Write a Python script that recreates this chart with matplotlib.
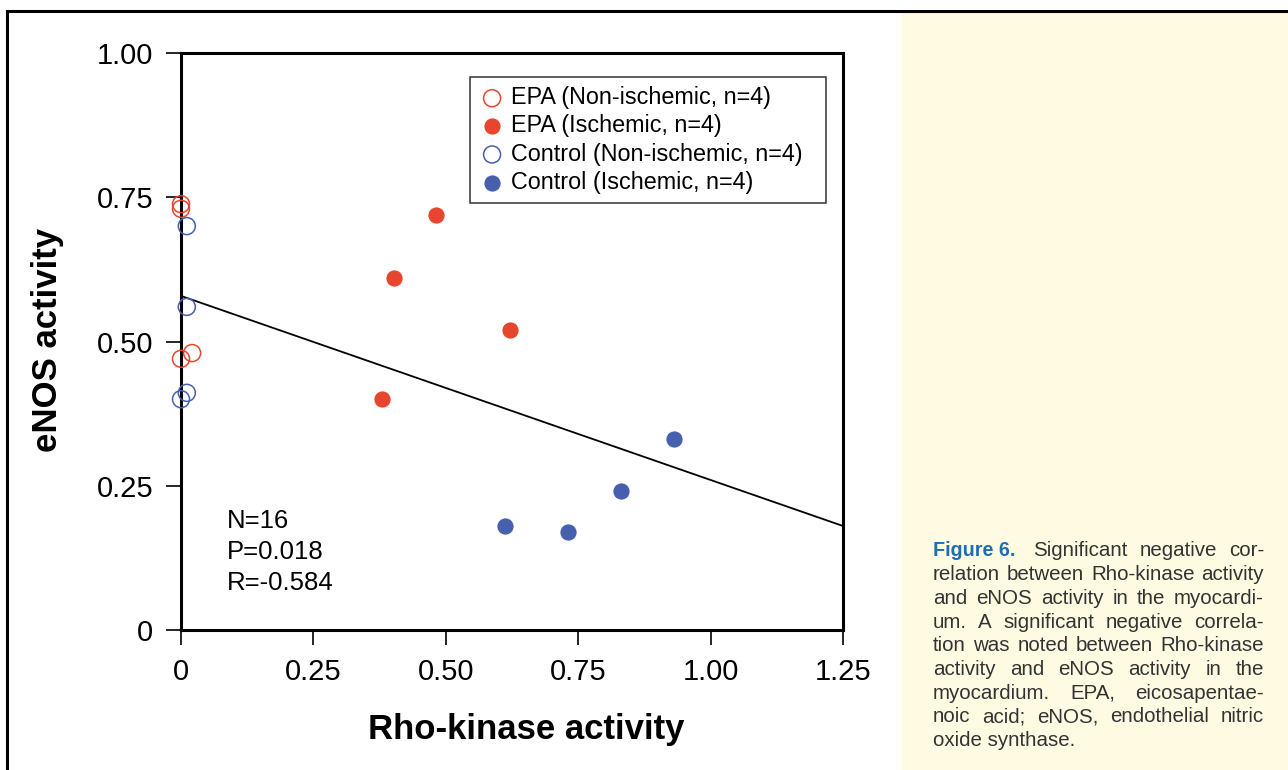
import numpy as np
import matplotlib.pyplot as plt
from matplotlib.lines import Line2D
from matplotlib.patches import Rectangle

plt.rcParams['font.family'] = ['Liberation Sans', 'DejaVu Sans']

# Rho-kinase activity (x) vs eNOS activity (y)
epa_non_x = [0.0, 0.0, 0.021, 0.0]
epa_non_y = [0.738, 0.730, 0.480, 0.470]
epa_isc_x = [0.481, 0.402, 0.621, 0.380]
epa_isc_y = [0.719, 0.610, 0.520, 0.400]
ctl_non_x = [0.011, 0.011, 0.011, 0.0]
ctl_non_y = [0.700, 0.560, 0.411, 0.400]
ctl_isc_x = [0.612, 0.731, 0.831, 0.931]
ctl_isc_y = [0.180, 0.170, 0.241, 0.331]

# regression line as drawn
fit_intercept = 0.579
fit_slope = -0.319

ticks = [0, 0.25, 0.50, 0.75, 1.00, 1.25]
tick_labels = ["0", "0.25", "0.50", "0.75", "1.00", "1.25"]
yticks = [0, 0.25, 0.50, 0.75, 1.00]
ytick_labels = ["0", "0.25", "0.50", "0.75", "1.00"]

stats_text = "N=16\nP=0.018\nR=-0.584"

caption_lines = [
    "Significant negative cor-",
    "relation between Rho-kinase activity",
    "and eNOS activity in the myocardi-",
    "um. A significant negative correla-",
    "tion was noted between Rho-kinase",
    "activity and eNOS activity in the",
    "myocardium. EPA, eicosapentae-",
    "noic acid; eNOS, endothelial nitric",
    "oxide synthase.",
]

RED = "#E8452F"
BLUE = "#4660AE"

W, H = 1288, 770
fig = plt.figure(figsize=(W / 100, H / 100), dpi=100)

# background panels and frame
fig.add_artist(Rectangle((901 / W, 0), 1 - 901 / W, 1 - 13 / H,
                         transform=fig.transFigure, color="#FFFBE3", lw=0, zorder=0))
fig.add_artist(Line2D([7 / W, 1], [1 - 11 / H, 1 - 11 / H],
                      transform=fig.transFigure, color="black", lw=2.2))
fig.add_artist(Line2D([7 / W, 7 / W], [0, 1 - 11 / H],
                      transform=fig.transFigure, color="black", lw=2.2))

ax = fig.add_axes([181 / W, 1 - 630 / H, (843 - 181) / W, (630 - 53) / H])

ms = 150
common = dict(s=ms, zorder=3, clip_on=False)
ax.scatter(epa_non_x, epa_non_y, facecolors="none", edgecolors=RED,
           linewidths=1.1, label="EPA (Non-ischemic, n=4)", **common)
ax.scatter(epa_isc_x, epa_isc_y, color=RED, edgecolors="white",
           linewidths=0.5, label="EPA (Ischemic, n=4)", **common)
ax.scatter(ctl_non_x, ctl_non_y, facecolors="none", edgecolors=BLUE,
           linewidths=1.1, label="Control (Non-ischemic, n=4)", **common)
ax.scatter(ctl_isc_x, ctl_isc_y, color=BLUE, edgecolors="white",
           linewidths=0.5, label="Control (Ischemic, n=4)", **common)

xs = np.array([0, 1.25])
ax.plot(xs, fit_intercept + fit_slope * xs, color="black", lw=1.3, zorder=2)

ax.set_xlim(0, 1.25)
ax.set_ylim(0, 1.0)
ax.set_xticks(ticks)
ax.set_xticklabels(tick_labels)
ax.set_yticks(yticks)
ax.set_yticklabels(ytick_labels)
ax.tick_params(direction="out", length=11, width=1.2, labelsize=21, pad=9)
for sp in ax.spines.values():
    sp.set_linewidth(2.2)

ax.set_xlabel("Rho-kinase activity", fontsize=25, fontweight="bold", va="center")
ax.xaxis.set_label_coords(0.521, -0.173)
ax.set_ylabel("eNOS activity", fontsize=25, fontweight="bold", va="center")
ax.yaxis.set_label_coords(-0.2024, 0.503)

ax.text(0.07, 0.21, stats_text, transform=ax.transAxes, fontsize=18.5,
        va="top", ha="left", linespacing=1.37)

leg = ax.legend(loc="upper left", bbox_to_anchor=(0.4366, 0, 0.5378, 0.9584),
                mode="expand", fontsize=16.8, frameon=True, fancybox=False,
                edgecolor="black", handletextpad=0.27, handlelength=1.09,
                borderpad=0.4, labelspacing=0.22, borderaxespad=0)
leg.get_frame().set_linewidth(1.1)

# justified caption
fig.canvas.draw()
renderer = fig.canvas.get_renderer()
left_px, right_px = 933, 1264
top_px = 551
line_h = 23.7
cap_kw = dict(fontsize=14.8, color="#333333", va="center", ha="left")


def width_of(t):
    return t.get_window_extent(renderer).width


head = fig.text(left_px / W, 1 - top_px / H, "Figure 6.", fontsize=14.2,
                fontweight="bold", color="#1F6DB3",
                family=["Liberation Sans Narrow", "Liberation Sans"],
                va="center", ha="left")

for i, line in enumerate(caption_lines):
    y = 1 - (top_px + i * line_h) / H
    start = left_px
    if i == 0:
        start = 1033
    words = line.split(" ")
    if i == len(caption_lines) - 1:
        fig.text(start / W, y, line, **cap_kw)
        continue
    arts = [fig.text(0, y, w_, **cap_kw) for w_ in words]
    widths = [width_of(a) for a in arts]
    gap = (right_px - start - sum(widths)) / max(len(words) - 1, 1)
    x = start
    for a, wd in zip(arts, widths):
        a.set_x(x / W)
        x += wd + gap

fig.savefig("out.png", dpi=100)
